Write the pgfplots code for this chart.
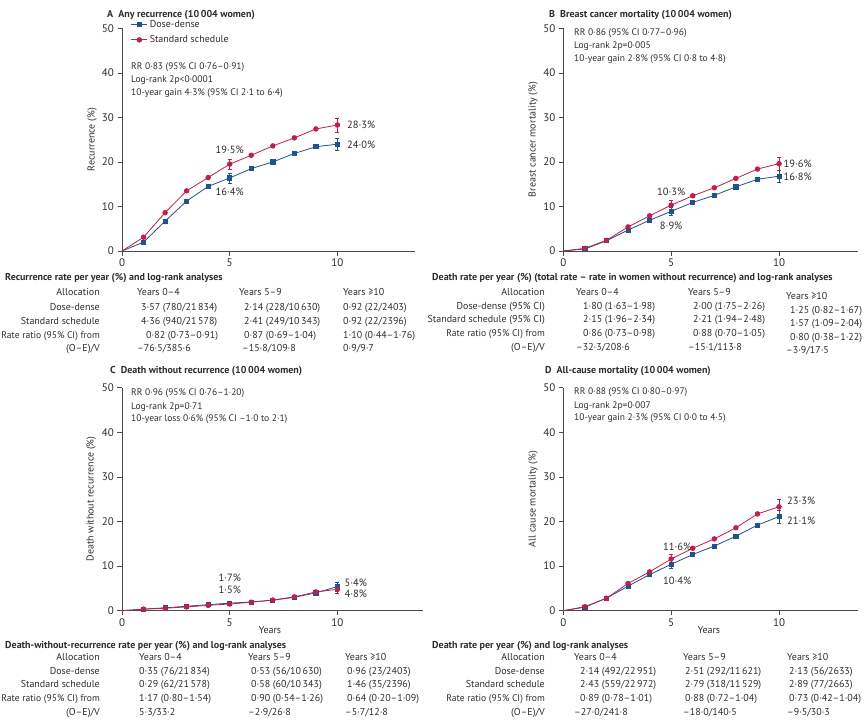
\documentclass[border=0pt]{standalone}
\usepackage{fontspec}
\setmainfont{PT Sans}
\usepackage{pgfplots}
\pgfplotsset{compat=1.18}

\definecolor{ddblue}{RGB}{32,82,142}
\definecolor{ssred}{RGB}{190,32,72}
\definecolor{txt}{RGB}{45,45,45}
\definecolor{axc}{RGB}{75,75,75}

\newcommand\fs{\fontsize{10}{11}\selectfont}
\newcommand\fa{\fontsize{9.5}{10.5}\selectfont}
\tikzset{
  t/.style={inner sep=0pt, text height=6.8pt, text depth=1.8pt, font=\fs, text=txt},
  tl/.style={t, anchor=west},
  tr/.style={t, anchor=east},
  trs/.style={t, anchor=east, font=\fontsize{9.6}{10.5}\selectfont},
  tb/.style={t, anchor=west, font=\fs\bfseries},
  ta/.style={t, anchor=west, font=\fa},
  vl/.style={inner sep=0pt, font=\fontsize{10.5}{11}\selectfont, text=txt},
}
% text cell at a position in the page grid (x right, y down)
\newcommand\cell[4][tl]{\node[#1] at (#2pt,-#3pt) {#4};}

\pgfplotsset{
  panel/.style={
    scale only axis, anchor=south west, clip=false,
    xmin=0, ymin=0, ymax=50, enlargelimits=false,
    axis lines*=left,
    axis line style={draw=axc, line width=0.6pt},
    xtick={0,5,10}, ytick={0,10,...,50},
    tick align=outside, major tick length=4.5pt,
    tick style={draw=axc, line width=0.6pt},
    ticklabel style={font=\fontsize{11}{12}\selectfont, text=txt},
    /pgf/number format/assume math mode=true,
  },
  dd/.style={color=ddblue, mark=square*, mark size=2.1pt, line width=0.8pt,
    mark indices={2,3,4,5,6,7,8,9,10,11}},
  ss/.style={color=ssred, mark=*, mark size=2.3pt, line width=0.8pt,
    mark indices={2,3,4,5,6,7,8,9,10,11}},
  ebar/.style={only marks, forget plot, mark=none,
    error bars/.cd, y dir=both, y explicit,
    error bar style={line width=0.6pt},
    error mark options={rotate=90, mark size=2pt, line width=0.6pt}},
}

\begin{document}
\begin{tikzpicture}
\path[use as bounding box] (0,0) rectangle (865pt,-722pt);

% ---------------- A: any recurrence ----------------
\cell[tb]{107}{15}{A\hspace{5pt}Any recurrence (10\,004 women)}
\begin{axis}[panel, at={(122pt,-251pt)}, width=293pt, height=222.7pt, xmax=13.6,
  legend style={at={(axis description cs:0.03,1.045)}, anchor=north west,
    draw=none, fill=none, inner sep=0pt, font=\fs, text=txt,
    cells={anchor=west}, row sep=2.5pt},
  legend image code/.code={\draw[#1,mark=none] (0pt,0pt) -- (16pt,0pt);
    \draw[#1,only marks,mark indices={1}] plot coordinates {(8pt,0pt)};}]
\addplot[dd] coordinates {(0,0)(1,2.0)(2,6.7)(3,11.2)(4,14.5)(5,16.4)(6,18.5)(7,20.0)(8,21.9)(9,23.4)(10,24.0)};
\addlegendentry{Dose-dense}
\addplot[ss] coordinates {(0,0)(1,3.1)(2,8.6)(3,13.5)(4,16.5)(5,19.5)(6,21.5)(7,23.6)(8,25.4)(9,27.4)(10,28.3)};
\addlegendentry{Standard schedule}
\addplot[ddblue, ebar] coordinates {(5,16.4) +- (0,1.1) (10,24.0) +- (0,1.4)};
\addplot[ssred, ebar] coordinates {(5,19.5) +- (0,1.2) (10,28.3) +- (0,1.6)};
\node[vl] at (axis cs:5,19.5) [yshift=14pt] {19·5\%};
\node[vl] at (axis cs:5,16.4) [yshift=-14pt] {16·4\%};
\node[vl, anchor=west] at (axis cs:10,28.3) [xshift=9.5pt, yshift=0pt] {28·3\%};
\node[vl, anchor=west] at (axis cs:10,24.0) [xshift=9.5pt, yshift=-1pt] {24·0\%};
\end{axis}
\cell[ta]{131}{67}{RR 0·83 (95\% CI 0·76–0·91)}
\cell[ta]{131}{80}{Log-rank 2p<0·0001}
\cell[ta]{131}{93}{10-year gain 4·3\% (95\% CI 2·1 to 6·4)}
\node[t, rotate=90, anchor=center] at (92pt,-139.5pt) {Recurrence (\%)};

% ---------------- B: breast cancer mortality ----------------
\cell[tb]{549}{15}{B\hspace{5pt}Breast cancer mortality (10\,004 women)}
\begin{axis}[panel, at={(563.3pt,-251pt)}, width=294.7pt, height=222.7pt, xmax=13.66]
\addplot[dd] coordinates {(0,0)(1,0.45)(2,2.3)(3,4.7)(4,6.9)(5,8.9)(6,10.9)(7,12.5)(8,14.4)(9,16.1)(10,16.8)};
\addplot[ss] coordinates {(0,0)(1,0.6)(2,2.4)(3,5.4)(4,7.9)(5,10.3)(6,12.4)(7,14.2)(8,16.3)(9,18.4)(10,19.6)};
\addplot[ddblue, ebar] coordinates {(5,8.9) +- (0,0.9) (10,16.8) +- (0,1.4)};
\addplot[ssred, ebar] coordinates {(5,10.3) +- (0,1.0) (10,19.6) +- (0,1.5)};
\node[vl] at (axis cs:5,10.3) [yshift=13pt] {10·3\%};
\node[vl] at (axis cs:5,8.9) [yshift=-14.5pt] {8·9\%};
\node[vl, anchor=west] at (axis cs:10,19.6) [xshift=4.5pt, yshift=0pt] {19·6\%};
\node[vl, anchor=west] at (axis cs:10,16.8) [xshift=4.5pt, yshift=-1pt] {16·8\%};
\end{axis}
\cell[ta]{574}{33}{RR 0·86 (95\% CI 0·77–0·96)}
\cell[ta]{574}{46}{Log-rank 2p=0·005}
\cell[ta]{574}{59}{10-year gain 2·8\% (95\% CI 0·8 to 4·8)}
\node[t, rotate=90, anchor=center] at (533pt,-139.5pt) {Breast cancer mortality (\%)};

% ---------------- C: death without recurrence ----------------
\cell[tb]{110}{371}{C\hspace{5pt}Death without recurrence (10\,004 women)}
\begin{axis}[panel, at={(122pt,-610.7pt)}, width=300.7pt, height=223pt, xmax=13.96]
\addplot[dd] coordinates {(0,0)(1,0.35)(2,0.65)(3,1.0)(4,1.35)(5,1.7)(6,1.95)(7,2.35)(8,3.0)(9,4.0)(10,5.4)};
\addplot[ss] coordinates {(0,0)(1,0.35)(2,0.55)(3,0.85)(4,1.2)(5,1.5)(6,1.9)(7,2.4)(8,3.1)(9,4.2)(10,4.8)};
\addplot[ddblue, ebar] coordinates {(5,1.7) +- (0,0.4) (10,5.4) +- (0,1.0)};
\addplot[ssred, ebar] coordinates {(5,1.5) +- (0,0.4) (10,4.8) +- (0,0.9)};
\node[vl] at (axis cs:5,1.7) [yshift=25pt] {1·7\%};
\node[vl] at (axis cs:5,1.5) [yshift=14pt] {1·5\%};
\node[vl, anchor=west] at (axis cs:10,5.4) [xshift=7pt, yshift=3.5pt] {5·4\%};
\node[vl, anchor=west] at (axis cs:10,4.8) [xshift=7pt, yshift=-4.5pt] {4·8\%};
\end{axis}
\cell[ta]{131}{393}{RR 0·96 (95\% CI 0·76–1·20)}
\cell[ta]{131}{406.5}{Log-rank 2p=0·71}
\cell[ta]{131}{419}{10-year loss 0·6\% (95\% CI –1·0 to 2·1)}
\node[t, rotate=90, anchor=center] at (91pt,-499pt) {Death without recurrence (\%)};
\node[t, anchor=center] at (270pt,-631pt) {Years};

% ---------------- D: all-cause mortality ----------------
\cell[tb]{545}{371}{D\hspace{5pt}All-cause mortality (10\,004 women)}
\begin{axis}[panel, at={(563.3pt,-610.7pt)}, width=294.7pt, height=223pt, xmax=13.66]
\addplot[dd] coordinates {(0,0)(1,0.8)(2,2.8)(3,5.5)(4,8.1)(5,10.4)(6,12.6)(7,14.5)(8,16.7)(9,19.2)(10,21.1)};
\addplot[ss] coordinates {(0,0)(1,0.9)(2,2.8)(3,6.1)(4,8.7)(5,11.6)(6,14.0)(7,16.1)(8,18.6)(9,21.7)(10,23.3)};
\addplot[ddblue, ebar] coordinates {(5,10.4) +- (0,0.9) (10,21.1) +- (0,1.5)};
\addplot[ssred, ebar] coordinates {(5,11.6) +- (0,1.0) (10,23.3) +- (0,1.6)};
\node[vl] at (axis cs:5,11.6) [xshift=6pt, yshift=12pt] {11·6\%};
\node[vl] at (axis cs:5,10.4) [xshift=6pt, yshift=-17pt] {10·4\%};
\node[vl, anchor=west] at (axis cs:10,23.3) [xshift=8pt, yshift=6pt] {23·3\%};
\node[vl, anchor=west] at (axis cs:10,21.1) [xshift=8pt, yshift=-4.5pt] {21·1\%};
\end{axis}
\cell[ta]{574}{392}{RR 0·88 (95\% CI 0·80–0·97)}
\cell[ta]{574}{405.5}{Log-rank 2p=0·007}
\cell[ta]{574}{418}{10-year gain 2·3\% (95\% CI 0·0 to 4·5)}
\node[t, rotate=90, anchor=center] at (533pt,-499pt) {All cause mortality (\%)};
\node[t, anchor=center] at (709pt,-631pt) {Years};

% ---------------- table under A ----------------
\cell[tb]{5}{278}{Recurrence rate per year (\%) and log-rank analyses}
\cell[tr]{100}{293}{Allocation}
\cell[tr]{100}{307.5}{Dose-dense}
\cell[tr]{100}{321.5}{Standard schedule}
\cell[trs]{100}{335.5}{Rate ratio (95\% CI) from}
\cell[tr]{100}{349}{(O–E)/V}
\cell{137}{293}{Years 0–4}
\cell{141}{307.5}{3·57 (780/21\,834)}
\cell{141}{321.5}{4·36 (940/21\,578)}
\cell{146}{335.5}{0·82 (0·73–0·91)}
\cell{137}{349}{–76·5/385·6}
\cell{239}{293}{Years 5–9}
\cell{244}{307.5}{2·14 (228/10\,630)}
\cell{244}{321.5}{2·41 (249/10\,343)}
\cell{244}{335.5}{0·87 (0·69–1·04)}
\cell{242}{349}{–15·8/109·8}
\cell{343}{293}{Years ≥10}
\cell{343}{307.5}{0·92 (22/2403)}
\cell{343}{321.5}{0·92 (22/2396)}
\cell{343}{335.5}{1·10 (0·44–1·76)}
\cell{343}{349}{0·9/9·7}

% ---------------- table under B ----------------
\cell[tb]{432}{278}{Death rate per year (\%) (total rate – rate in women without recurrence) and log-rank analyses}
\cell[tr]{545}{293}{Allocation}
\cell[tr]{545}{306.5}{Dose-dense (95\% CI)}
\cell[tr]{545}{320}{Standard schedule (95\% CI)}
\cell[trs]{545}{334}{Rate ratio (95\% CI) from}
\cell[tr]{545}{347.5}{(O–E)/V}
\cell{576}{293}{Years 0–4}
\cell{583}{306.5}{1·80 (1·63–1·98)}
\cell{583}{320}{2·15 (1·96–2·34)}
\cell{583}{334}{0·86 (0·73–0·98)}
\cell{576}{347.5}{–32·3/208·6}
\cell{688}{293}{Years 5–9}
\cell{693}{306.5}{2·00 (1·75–2·26)}
\cell{693}{320}{2·21 (1·94–2·48)}
\cell{693}{334}{0·88 (0·70–1·05)}
\cell{688}{347.5}{–15·1/113·8}
\cell{786}{297}{Years ≥10}
\cell{790}{310.5}{1·25 (0·82–1·67)}
\cell{790}{324}{1·57 (1·09–2·04)}
\cell{790}{337.5}{0·80 (0·38–1·22)}
\cell{786}{351}{–3·9/17·5}

% ---------------- table under C ----------------
\cell[tb]{5}{646}{Death-without-recurrence rate per year (\%) and log-rank analyses}
\cell[tr]{100}{658}{Allocation}
\cell[tr]{100}{671.5}{Dose-dense}
\cell[tr]{100}{685}{Standard schedule}
\cell[trs]{100}{699}{Rate ratio (95\% CI) from}
\cell[tr]{100}{712.5}{(O–E)/V}
\cell{139}{658}{Years 0–4}
\cell{139}{671.5}{0·35 (76/21\,834)}
\cell{139}{685}{0·29 (62/21\,578)}
\cell{139}{699}{1·17 (0·80–1·54)}
\cell{139}{712.5}{5·3/33·2}
\cell{248}{658}{Years 5–9}
\cell{251}{671.5}{0·53 (56/10\,630)}
\cell{251}{685}{0·58 (60/10\,343)}
\cell{251}{699}{0·90 (0·54–1·26)}
\cell{248}{712.5}{–2·9/26·8}
\cell{345}{658}{Years ≥10}
\cell{347}{671.5}{0·96 (23/2403)}
\cell{347}{685}{1·46 (35/2396)}
\cell{347}{699}{0·64 (0·20–1·09)}
\cell{345}{712.5}{–5·7/12·8}

% ---------------- table under D ----------------
\cell[tb]{432}{646}{Death rate per year (\%) and log-rank analyses}
\cell[tr]{545}{658}{Allocation}
\cell[tr]{545}{671.5}{Dose-dense}
\cell[tr]{545}{685}{Standard schedule}
\cell[trs]{545}{699}{Rate ratio (95\% CI) from}
\cell[tr]{545}{712.5}{(O–E)/V}
\cell{574}{658}{Years 0–4}
\cell{580}{671.5}{2·14 (492/22\,951)}
\cell{580}{685}{2·43 (559/22\,972)}
\cell{580}{699}{0·89 (0·78–1·01)}
\cell{574}{712.5}{–27·0/241·8}
\cell{683}{658}{Years 5–9}
\cell{685}{671.5}{2·51 (292/11\,621)}
\cell{685}{685}{2·79 (318/11\,529)}
\cell{685}{699}{0·88 (0·72–1·04)}
\cell{683}{712.5}{–18·0/140·5}
\cell{787}{658}{Years ≥10}
\cell{789}{671.5}{2·13 (56/2633)}
\cell{789}{685}{2·89 (77/2663)}
\cell{789}{699}{0·73 (0·42–1·04)}
\cell{787}{712.5}{–9·5/30·3}
\end{tikzpicture}
\end{document}
